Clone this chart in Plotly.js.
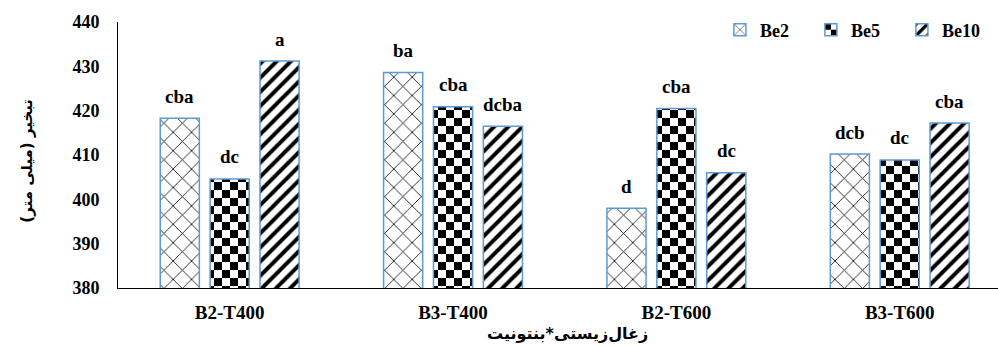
<!DOCTYPE html>
<html>
<head>
<meta charset="utf-8">
<script src="https://cdn.plot.ly/plotly-3.0.1.min.js"></script>
<style>html,body{margin:0;padding:0;background:#fff;}#chart{width:998px;height:346px;}</style>
</head>
<body>
<div id="chart"></div>
<script>
const categories = ["B2-T400", "B3-T400", "B2-T600", "B3-T600"];
const seriesNames = ["Be2", "Be5", "Be10"];
const be2 = [418.3, 428.6, 398.0, 410.2];
const be5 = [404.6, 420.9, 420.5, 408.9];
const be10 = [431.2, 416.5, 406.0, 417.2];
const letters2 = ["cba", "ba", "d", "dcb"];
const letters5 = ["dc", "cba", "cba", "dc"];
const letters10 = ["a", "dcba", "dc", "cba"];
const yTitle = "تبخیر (میلی متر)";
const xTitle = "زغال‌زیستی*بنتونیت";

const serif = "Liberation Serif, Times New Roman, serif";
const persian = "DejaVu Sans, Noto Sans, sans-serif";
const edge = {color: "#5B9BD5", width: 1.5};

const traces = [
  {type: "bar", name: seriesNames[0], uid: "be2", x: categories, y: be2,
   marker: {color: "#ffffff", line: edge, pattern: {shape: "x", size: 13, solidity: 0.12, fgcolor: "#000", bgcolor: "#fff"}}},
  {type: "bar", name: seriesNames[1], uid: "be5", x: categories, y: be5,
   marker: {color: "#ffffff", line: edge, pattern: {shape: "+", size: 16, solidity: 0.5, fgcolor: "#000", bgcolor: "#fff"}}},
  {type: "bar", name: seriesNames[2], uid: "be10", x: categories, y: be10,
   marker: {color: "#ffffff", line: edge, pattern: {shape: "/", size: 10, solidity: 0.4, fgcolor: "#000", bgcolor: "#fff"}}}
];

const annotations = [];
const allVals = [be2, be5, be10];
const allLetters = [letters2, letters5, letters10];
const shifts = [-50, 0, 50];
for (let s = 0; s < 3; s++) {
  for (let i = 0; i < categories.length; i++) {
    annotations.push({x: categories[i], y: allVals[s][i], xref: "x", yref: "y",
      text: allLetters[s][i], showarrow: false, xshift: shifts[s], yshift: 22,
      yanchor: "middle", xanchor: "center",
      font: {family: serif, size: 19, color: "#000", weight: "bold"}});
  }
}
annotations.push({text: yTitle, xref: "paper", yref: "paper", x: -0.103, y: 0.48,
  showarrow: false, textangle: -90, xanchor: "center", yanchor: "middle",
  font: {family: persian, size: 15, color: "#000", weight: "bold"}});
annotations.push({text: xTitle, xref: "paper", yref: "paper", x: 0.511, y: -0.172,
  showarrow: false, xanchor: "center", yanchor: "middle",
  font: {family: persian, size: 16, color: "#000", weight: "bold"}});

const layout = {
  width: 998, height: 346,
  margin: {l: 118, r: 0, t: 22, b: 58, pad: 0, autoexpand: false},
  paper_bgcolor: "#fff", plot_bgcolor: "#fff",
  barmode: "group", bargap: 0.33, bargroupgap: 0.216,
  showlegend: true,
  legend: {orientation: "h", x: 0.684, y: 0.97, xanchor: "left", yanchor: "middle",
    entrywidth: 46, entrywidthmode: "pixels", itemwidth: 30, traceorder: "normal",
    font: {family: serif, size: 18, color: "#000", weight: "bold"}, bgcolor: "rgba(0,0,0,0)"},
  xaxis: {type: "category", range: [-0.5, 3.44], showline: true, linecolor: "#000", linewidth: 1,
    ticks: "", showgrid: false, zeroline: false, ticklabelstandoff: 7,
    tickfont: {family: serif, size: 19, color: "#000", weight: "bold"}},
  yaxis: {range: [380, 440], dtick: 10, tick0: 380, showline: true, linecolor: "#000", linewidth: 1,
    ticks: "", showgrid: false, zeroline: false, ticklabelstandoff: 14,
    tickfont: {family: serif, size: 18, color: "#000", weight: "bold"}},
  annotations: annotations
};

const gd = document.getElementById("chart");

function fillId(el) {
  const f = el.style.fill || el.getAttribute("fill") || "";
  const m = f.match(/#([^"')]+)/);
  return m ? m[1] : null;
}
function fixChecker() {
  const ids = new Set();
  const barTraces = gd.querySelectorAll(".barlayer .trace");
  if (barTraces[1]) barTraces[1].querySelectorAll("path").forEach(p => { const id = fillId(p); if (id) ids.add(id); });
  const legTraces = gd.querySelectorAll(".legend .traces");
  if (legTraces[1]) legTraces[1].querySelectorAll("path").forEach(p => { const id = fillId(p); if (id) ids.add(id); });
  const NS = "http://www.w3.org/2000/svg";
  ids.forEach(id => {
    const pat = document.getElementById(id);
    if (!pat || pat.getAttribute("data-checker")) return;
    const s = 16, h = 8;
    while (pat.firstChild) pat.removeChild(pat.firstChild);
    pat.setAttribute("width", s); pat.setAttribute("height", s);
    pat.setAttribute("patternUnits", "userSpaceOnUse");
    pat.setAttribute("data-checker", "1");
    const rects = [[0, 0, s, s, "#fff"], [0, 0, h, h, "#000"], [h, h, h, h, "#000"]];
    rects.forEach(r => {
      const e = document.createElementNS(NS, "rect");
      e.setAttribute("x", r[0]); e.setAttribute("y", r[1]);
      e.setAttribute("width", r[2]); e.setAttribute("height", r[3]);
      e.setAttribute("fill", r[4]);
      pat.appendChild(e);
    });
  });
}

Plotly.newPlot(gd, traces, layout, {displayModeBar: false, staticPlot: true}).then(() => {
  fixChecker();
  gd.on && gd.on("plotly_afterplot", fixChecker);
});
</script>
</body>
</html>
